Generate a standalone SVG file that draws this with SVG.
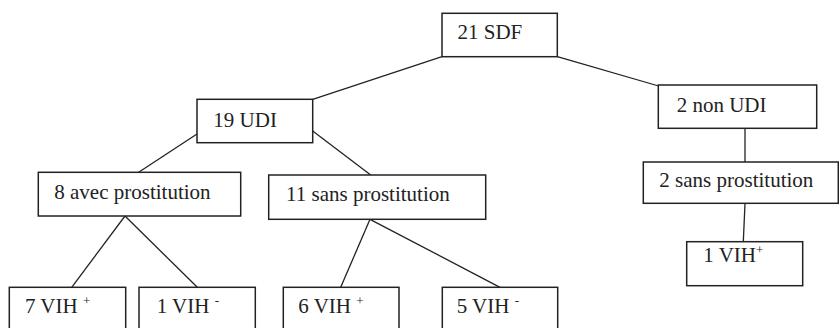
<svg xmlns="http://www.w3.org/2000/svg" width="839" height="328" viewBox="0 0 839 328">
<style>
rect{fill:#fff;stroke:#222;stroke-width:1.5}
line{stroke:#222;stroke-width:1.3}
text{font-family:"Liberation Serif","Times New Roman",serif;font-size:21px;fill:#222}
.sup{font-size:13px}
</style>
<rect x="0" y="0" width="839" height="328" style="stroke:none"/>
<g id="connectors">
<line x1="442" y1="56.7" x2="312.7" y2="99.3"/>
<line x1="557.3" y1="56.7" x2="658.7" y2="86"/>
<line x1="197" y1="134" x2="138.3" y2="172.5"/>
<line x1="312.7" y1="131" x2="370.7" y2="175"/>
<line x1="745" y1="128.3" x2="745" y2="162"/>
<line x1="745" y1="203.3" x2="743.3" y2="242"/>
<line x1="125" y1="216" x2="71.7" y2="287.3"/>
<line x1="125" y1="216" x2="197.3" y2="287.3"/>
<line x1="370" y1="219.3" x2="340.7" y2="287.3"/>
<line x1="370" y1="219.3" x2="500" y2="287.3"/>
</g>
<g id="n-sdf"><rect x="442" y="13.3" width="115.3" height="43.4"/><text x="457.5" y="38.5">21 SDF</text></g>
<g id="n-udi"><rect x="197" y="99.3" width="115.7" height="43.4"/><text x="213.3" y="126.7">19 UDI</text></g>
<g id="n-nonudi"><rect x="658.3" y="85" width="158.4" height="43.3"/><text x="676.7" y="111.7">2 non UDI</text></g>
<g id="n-avec"><rect x="38.3" y="172.3" width="202.4" height="43.7"/><text x="54.3" y="199.3">8 avec prostitution</text></g>
<g id="n-sans11"><rect x="268.7" y="175" width="217" height="44.3"/><text x="286" y="200.7">11 sans prostitution</text></g>
<g id="n-sans2"><rect x="643.3" y="162" width="195" height="41.3"/><text x="659.3" y="186.7">2 sans prostitution</text></g>
<g id="n-vih1p"><rect x="686.7" y="241.7" width="116" height="44"/><text x="703.3" y="261.7">1 VIH<tspan class="sup" dy="-8">+</tspan></text></g>
<g id="n-vih7p"><rect x="9.3" y="287.3" width="116.4" height="50"/><text x="25" y="313.3">7 VIH <tspan class="sup" dy="-8">+</tspan></text></g>
<g id="n-vih1m"><rect x="139" y="287.3" width="116.3" height="50"/><text x="156.7" y="313.3">1 VIH <tspan class="sup" dy="-8">-</tspan></text></g>
<g id="n-vih6p"><rect x="283.3" y="287.3" width="115.7" height="50"/><text x="298.3" y="313.3">6 VIH <tspan class="sup" dy="-8">+</tspan></text></g>
<g id="n-vih5m"><rect x="442.3" y="287.3" width="115.4" height="50"/><text x="456.7" y="313.3">5 VIH <tspan class="sup" dy="-8">-</tspan></text></g>
</svg>
